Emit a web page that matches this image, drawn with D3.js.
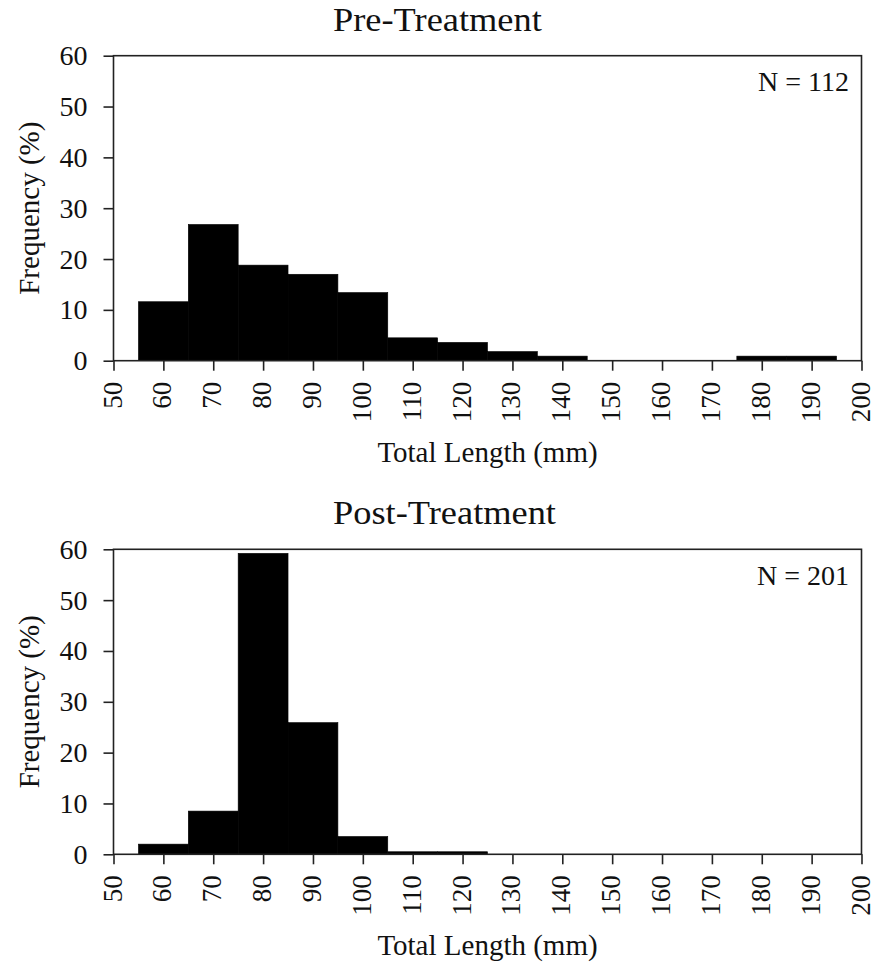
<!DOCTYPE html>
<html><head><meta charset="utf-8">
<script src="https://cdn.jsdelivr.net/npm/d3@7"></script>
<style>
body{margin:0;background:#fff}
text{font-family:"Liberation Serif","Times New Roman",serif;fill:#111}
</style>
</head><body>
<svg id="chart" width="875" height="964"></svg>
<script>
// ---- data ----
const binStarts = [55,65,75,85,95,105,115,125,135,145,155,165,175,185];
const binWidth = 10;
const preFreq  = [11.6,26.8,18.8,17.0,13.4,4.5,3.6,1.8,0.9,0,0,0,0.9,0.9];
const postFreq = [2.0,8.5,59.2,25.9,3.5,0.5,0.5,0,0,0,0,0,0,0];
const xTicks = [50,60,70,80,90,100,110,120,130,140,150,160,170,180,190,200];
const yTicks = [0,10,20,30,40,50,60];
const panelTitles = ["Pre-Treatment","Post-Treatment"];
const sampleSizes = ["N = 112","N = 201"];
const xTitle = "Total Length (mm)";
const yTitle = "Frequency (%)";

// ---- layout ----
const svg = d3.select("#chart");
const left = 113.5, right = 861.5, plotH = 305;
const tops = [55.7, 549.3];
const series = [preFreq, postFreq];

const x = d3.scaleLinear().domain([50,200]).range([0, right-left]);
const y = d3.scaleLinear().domain([0,60]).range([plotH, 0]);

series.forEach((vals, i) => {
  const g = svg.append("g").attr("transform", `translate(${left},${tops[i]})`);
  const bins = binStarts.map((s, j) => ({s, v: vals[j]})).filter(d => d.v > 0);

  g.selectAll("rect.bar").data(bins).enter().append("rect")
    .attr("class","bar")
    .attr("x", d => x(d.s))
    .attr("width", d => x(d.s + binWidth) - x(d.s))
    .attr("y", d => y(d.v))
    .attr("height", d => y(0) - y(d.v))
    .attr("fill", "#000").attr("stroke","#000").attr("stroke-width",0.6);

  // frame
  g.append("rect").attr("x",0).attr("y",0)
    .attr("width", right-left).attr("height", plotH)
    .attr("fill","none").attr("stroke","#222").attr("stroke-width",1.6);

  const ya = g.append("g").call(d3.axisLeft(y).tickValues(yTicks).tickSize(10).tickPadding(16).tickFormat(d3.format("d")));
  ya.select(".domain").remove();
  ya.selectAll("line").attr("stroke","#222").attr("stroke-width",1.6);
  ya.selectAll("text").attr("font-size", 28).attr("font-family","Liberation Serif").attr("fill","#111");

  const xa = g.append("g").attr("transform", `translate(0,${plotH})`)
    .call(d3.axisBottom(x).tickValues(xTicks).tickSize(10).tickFormat(d3.format("d")));
  xa.select(".domain").remove();
  xa.selectAll("line").attr("stroke","#222").attr("stroke-width",1.6);
  xa.selectAll("text")
    .attr("font-size", 27).attr("font-family","Liberation Serif").attr("fill","#111")
    .attr("text-anchor","end")
    .attr("transform","rotate(-90)")
    .attr("x", -21).attr("y", 0).attr("dy","0.28em");

  // panel title
  svg.append("text").attr("transform", `translate(333,${tops[i] - 25})scale(1.07,1)`)
    .attr("font-size", 34).text(panelTitles[i]);

  // sample size
  g.append("text").attr("x", 849 - left).attr("y", 35.5)
    .attr("text-anchor","end").attr("font-size", 28).text(sampleSizes[i]);

  // axis titles
  g.append("text").attr("x", (right-left)/2).attr("y", plotH + 101)
    .attr("text-anchor","middle").attr("font-size", 29).text(xTitle);
  g.append("text").attr("transform", `translate(${39-left},${plotH/2}) rotate(-90)`)
    .attr("text-anchor","middle").attr("font-size", 29).text(yTitle);
});
</script>
</body></html>
